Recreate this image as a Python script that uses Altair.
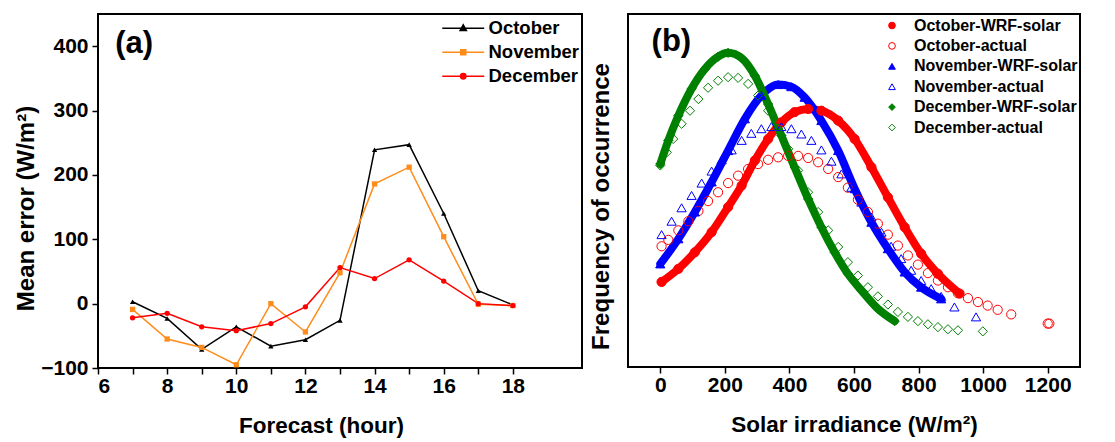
import altair as alt
import pandas as pd

# ---------------- Panel (a) data ----------------
hours = [7, 8, 9, 10, 11, 12, 13, 14, 15, 16, 17, 18]
october_err = [3, -23, -71, -36, -66, -56, -26, 239, 247, 140, 20, -2]
november_err = [-9, -55, -68, -95, 0, -44, 48, 186, 212, 104, -1, -3]
december_err = [-22, -15, -36, -42, -31, -5, 56, 39, 68, 35, 0, -3]
months = ["October", "November", "December"]
month_colors = ["#000000", "#FF8C1A", "#FF0000"]
month_shapes = ["triangle-up", "square", "circle"]
x_ticks_a = list(range(6, 19))
y_ticks_a = list(range(-100, 401, 50))

# ---------------- Panel (b) data ----------------
oct_wrf_x = [4, 56, 107, 159, 210, 252, 293, 334, 375, 416, 458, 499, 551, 602, 654, 705, 757, 808, 860, 927]
oct_wrf_f = [24.1, 27.8, 32.5, 38.2, 45.3, 51.4, 58.5, 64.6, 69.3, 72.2, 73.1, 72.6, 69.8, 64.6, 56.6, 48.1, 39.6, 32.1, 26.4, 20.8]
oct_act_x = [4, 25, 56, 87, 118, 148, 179, 210, 241, 272, 303, 334, 365, 396, 427, 458, 489, 520, 551, 581,
             612, 643, 674, 705, 736, 767, 798, 829, 860, 891, 922, 953, 984, 1014, 1045, 1087, 1200, 1205]
oct_act_f = [34.2, 36.0, 38.7, 41.3, 44.2, 47.0, 49.5, 52.1, 54.2, 56.1, 57.5, 58.7, 59.4, 59.8, 59.8, 59.2, 58.0, 56.1, 53.8, 50.8,
             47.4, 43.9, 40.6, 37.5, 34.4, 31.6, 29.0, 26.6, 24.5, 22.6, 20.9, 19.5, 18.4, 17.4, 16.2, 14.9, 12.3, 12.3]
nov_wrf_x = [0, 56, 107, 159, 210, 262, 313, 365, 406, 447, 499, 551, 602, 654, 705, 757, 808, 870]
nov_wrf_f = [29.2, 36.3, 43.9, 52.4, 61.3, 70.3, 76.9, 80.0, 79.4, 76.4, 69.8, 61.3, 50.5, 41.0, 33.5, 26.9, 22.6, 19.3]
nov_act_x = [4, 35, 66, 97, 128, 159, 190, 221, 252, 282, 313, 344, 375, 406, 437, 468, 499, 530, 561, 592,
             623, 654, 685, 715, 746, 777, 808, 839, 870, 911, 978]
nov_act_f = [37.5, 41.3, 45.1, 48.6, 52.1, 55.5, 58.7, 61.5, 64.2, 66.2, 67.5, 68.1, 68.1, 67.5, 66.0, 64.2, 61.5, 58.3, 54.7, 50.9,
             46.7, 42.5, 38.2, 34.2, 30.7, 27.4, 24.5, 22.2, 20.0, 17.0, 14.2]
dec_wrf_x = [0, 25, 56, 97, 138, 179, 210, 252, 293, 334, 375, 416, 458, 499, 540, 581, 623, 674, 726]
dec_wrf_f = [57.5, 64.2, 71.2, 78.8, 84.4, 87.9, 89.0, 87.5, 82.5, 74.5, 65.6, 56.6, 47.6, 39.6, 32.5, 26.4, 21.7, 16.5, 13.0]
dec_act_x = [0, 20, 40, 66, 92, 118, 148, 179, 210, 241, 272, 303, 334, 365, 396, 427, 458, 489, 520, 551,
             581, 612, 643, 674, 705, 736, 767, 798, 829, 860, 891, 922, 999]
dec_act_f = [57.1, 60.8, 64.6, 68.9, 72.6, 75.9, 79.1, 81.1, 82.1, 81.9, 80.2, 76.9, 72.6, 67.5, 61.8, 55.7, 49.5, 43.9, 38.7, 34.0,
             29.7, 25.9, 22.6, 20.0, 17.7, 15.6, 14.2, 13.0, 12.1, 11.3, 10.7, 10.4, 10.1]

series_b = ["October-WRF-solar", "October-actual", "November-WRF-solar",
            "November-actual", "December-WRF-solar", "December-actual"]
stroke_b = ["#FF0000", "#FF0000", "#0000FF", "#0000FF", "#008000", "#008000"]
fill_b = ["#FF0000", "transparent", "#0000FF", "transparent", "#008000", "transparent"]
shape_b = ["circle", "circle", "triangle-up", "triangle-up", "diamond", "diamond"]
wrf_names = ["October-WRF-solar", "November-WRF-solar", "December-WRF-solar"]
wrf_colors = ["#FF0000", "#0000FF", "#008000"]
x_ticks_b = list(range(0, 1201, 100))

FONT = "Liberation Sans"

# ---------------- Build tables ----------------
df_a = pd.DataFrame({
    "hour": hours * 3,
    "err": october_err + november_err + december_err,
    "month": [m for m in months for _ in hours],
})

xs = [oct_wrf_x, oct_act_x, nov_wrf_x, nov_act_x, dec_wrf_x, dec_act_x]
fs = [oct_wrf_f, oct_act_f, nov_wrf_f, nov_act_f, dec_wrf_f, dec_act_f]
rows = []
for k, (name, xv, fv) in enumerate(zip(series_b, xs, fs)):
    for a, b in zip(xv, fv):
        rows.append({"series": name, "irr": a, "freq": b, "k": k})
df_b = pd.DataFrame(rows)
df_wrf = df_b[df_b["series"].isin(wrf_names)]
one_row = pd.DataFrame({"n": [0]})

# ---------------- Panel (a) ----------------
xa = alt.X("hour:Q", scale=alt.Scale(domain=[6, 20], nice=False),
           axis=alt.Axis(values=x_ticks_a, title="Forecast (hour)",
                         labelExpr="datum.value % 2 == 0 ? datum.label : ''",
                         labelPadding=1, titlePadding=18, titleX=223, labelOverlap=False,
                         titleFontSize=22.5))
ya = alt.Y("err:Q", scale=alt.Scale(domain=[-100, 450], nice=False),
           axis=alt.Axis(values=y_ticks_a, title="Mean error (W/m²)",
                         labelExpr="datum.value % 100 == 0 ? datum.label : ''",
                         labelPadding=4, titlePadding=2, titleY=194, labelOverlap=False,
                         titleFontSize=24))

layers_a = []
for m, c in zip(months, month_colors):
    base = alt.Chart(df_a).transform_filter(alt.datum.month == m)
    layers_a.append(base.mark_line(strokeWidth=1.5, color=c).encode(x=xa, y=ya))
for m, c, s in zip(months, month_colors, month_shapes):
    base = alt.Chart(df_a).transform_filter(alt.datum.month == m)
    layers_a.append(base.mark_point(filled=True, size=28, opacity=1, shape=s, color=c).encode(x=xa, y=ya))

leg_paths = [
    "M-7,0H7M0,-1.15L1.05,0.75L-1.05,0.75Z",
    "M-7,0H7M-0.85,-0.85H0.85V0.85H-0.85Z",
    "M-7,0H7M-0.9,0A0.9,0.9,0,1,0,0.9,0A0.9,0.9,0,1,0,-0.9,0Z",
]
leg_a = alt.Legend(title=None, orient="none", legendX=356, legendY=5, padding=0,
                   labelFont=FONT, labelFontWeight="bold", labelFontSize=18.5, labelColor="black",
                   symbolSize=36, symbolStrokeWidth=1.5, symbolOpacity=1, labelLimit=300,
                   labelOffset=16, rowPadding=5)
legend_a = alt.Chart(df_a).mark_point(opacity=0).encode(
    x=xa, y=ya,
    stroke=alt.Stroke("month:N", scale=alt.Scale(domain=months, range=month_colors), legend=leg_a),
    fill=alt.Fill("month:N", scale=alt.Scale(domain=months, range=month_colors), legend=leg_a),
    shape=alt.Shape("month:N", scale=alt.Scale(domain=months, range=leg_paths), legend=leg_a),
)
tag_a = alt.Chart(one_row).mark_text(text="(a)", align="left", baseline="middle", font=FONT,
                                     fontWeight="bold", fontSize=31, color="black").encode(
    x=alt.datum(6.5), y=alt.datum(404))

panel_a = alt.layer(*layers_a, legend_a, tag_a).properties(width=484, height=354)

# ---------------- Panel (b) ----------------
xb = alt.X("irr:Q", scale=alt.Scale(domain=[-100, 1300], nice=False),
           axis=alt.Axis(values=x_ticks_b, title="Solar irradiance (W/m²)", format="d",
                         labelExpr="datum.value % 200 == 0 ? datum.label : ''",
                         labelPadding=1, titlePadding=18, labelOverlap=False, titleFontSize=22.5))
yb = alt.Y("freq:Q", scale=alt.Scale(domain=[0, 100], nice=False),
           axis=alt.Axis(title="Frequency of occurrence", labels=False, ticks=False,
                         titlePadding=15, titleY=192, titleFontSize=24))

lines_b = alt.Chart(df_wrf).mark_line(strokeWidth=8, strokeCap="round", strokeJoin="round",
                                      interpolate="monotone").encode(
    x=xb, y=yb,
    color=alt.Color("series:N", scale=alt.Scale(domain=wrf_names, range=wrf_colors), legend=None))

leg_b = alt.Legend(title=None, orient="none", legendX=256, legendY=3.5, padding=0,
                   labelFont=FONT, labelFontWeight="bold", labelFontSize=16, labelColor="black",
                   symbolSize=45, symbolStrokeWidth=1, symbolOpacity=1, labelLimit=300,
                   labelOffset=14, rowPadding=4.4)
pts_b = alt.Chart(df_b).mark_point(size=85, strokeWidth=1, opacity=1).encode(
    x=xb, y=yb,
    stroke=alt.Stroke("series:N", scale=alt.Scale(domain=series_b, range=stroke_b), legend=leg_b),
    fill=alt.Fill("series:N", scale=alt.Scale(domain=series_b, range=fill_b), legend=leg_b),
    shape=alt.Shape("series:N", scale=alt.Scale(domain=series_b, range=shape_b), legend=leg_b),
    order=alt.Order("k:Q"),
)
tag_b = alt.Chart(one_row).mark_text(text="(b)", align="left", baseline="middle", font=FONT,
                                     fontWeight="bold", fontSize=31, color="black").encode(
    x=alt.datum(-27), y=alt.datum(92))

panel_b = alt.layer(lines_b, pts_b, tag_b).properties(width=452, height=353)

chart = alt.hconcat(panel_a, panel_b, spacing=5).resolve_scale(
    color="independent", fill="independent", stroke="independent", shape="independent"
).configure_view(stroke="black", strokeWidth=2).configure_axis(
    domain=False, grid=False, tickColor="black", tickWidth=1.5, tickSize=6,
    labelFont=FONT, labelFontWeight="bold", labelFontSize=21, labelColor="black",
    titleFont=FONT, titleFontWeight="bold", titleColor="black",
)

chart.save("out.html", embed_options={"renderer": "svg", "actions": False})
